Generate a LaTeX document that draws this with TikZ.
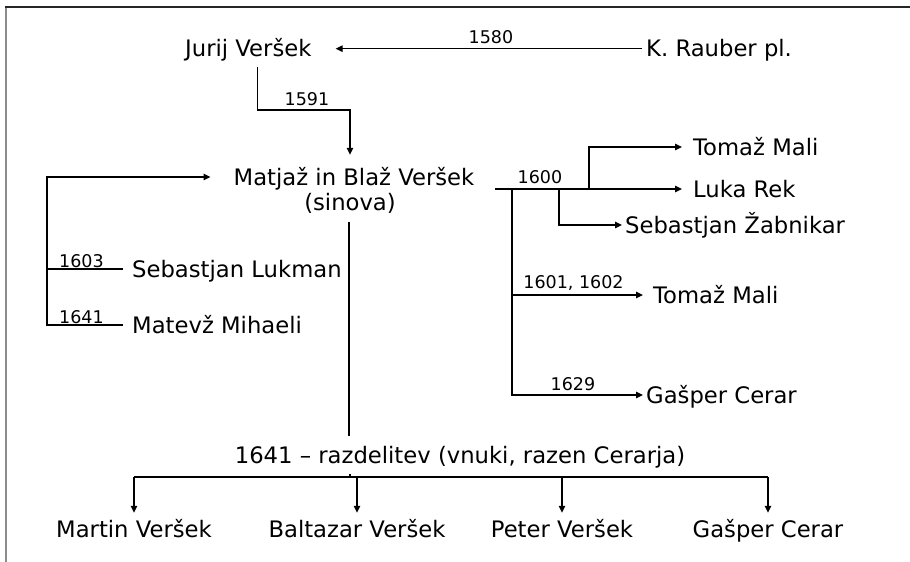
\documentclass[tikz,border=0pt]{standalone}
\usepackage{fontspec}
\setmainfont{DejaVu Sans}
\usetikzlibrary{arrows.meta}
\begin{document}
\begin{tikzpicture}[x=1pt,y=-1pt,
  lbl/.style={font=\fontsize{22.7}{26}\selectfont, inner sep=0pt, text height=16pt, text depth=0pt},
  yr/.style={font=\fontsize{17.5}{20}\selectfont, inner sep=0pt},
  ln/.style={line width=1.3pt},
  arr/.style={ln, -{Triangle[length=7pt,width=6.5pt]}},
]
\useasboundingbox (0,0) rectangle (910,562);
\draw[black!45, line width=2pt] (6,6) -- (6,562);
\draw[black!85, line width=1.5pt] (5,7) -- (910,7);

% names
\node[lbl, anchor=base west] (jurij) at (185,56.7) {Jurij Veršek};
\node[lbl, anchor=base west] (rauber) at (646,56.7) {K. Rauber pl.};
\node[lbl, anchor=base] (matjaz) at (354,185) {Matjaž in Blaž Veršek};
\node[lbl, anchor=base] (sinova) at (350,210) {(sinova)};
\node[lbl, anchor=base west] (lukman) at (132,277) {Sebastjan Lukman};
\node[lbl, anchor=base west] (mihaeli) at (132,333) {Matevž Mihaeli};
\node[lbl, anchor=base west] (tomaz1) at (693,155) {Tomaž Mali};
\node[lbl, anchor=base west] (luka) at (693,197) {Luka Rek};
\node[lbl, anchor=base west] (zabnikar) at (625,233) {Sebastjan Žabnikar};
\node[lbl, anchor=base west] (tomaz2) at (653,303) {Tomaž Mali};
\node[lbl, anchor=base west] (cerar1) at (646,403) {Gašper Cerar};
\node[lbl, anchor=base] (razdel) at (460,463) {1641 – razdelitev (vnuki, razen Cerarja)};
\node[lbl, anchor=base] (martin) at (134,537) {Martin Veršek};
\node[lbl, anchor=base] (baltazar) at (357,537) {Baltazar Veršek};
\node[lbl, anchor=base] (peter) at (562,537) {Peter Veršek};
\node[lbl, anchor=base] (cerar2) at (768,537) {Gašper Cerar};

% years
\node[yr, anchor=base] (y1580) at (491,43.5) {1580};
\node[yr, anchor=base] (y1591) at (307,105) {1591};
\node[yr, anchor=base west] (y1603) at (59,267) {1603};
\node[yr, anchor=base west] (y1641) at (59,323) {1641};
\node[yr, anchor=base] (y1600) at (540,183) {1600};
\node[yr, anchor=base] (y1601) at (573.5,288) {1601, 1602};
\node[yr, anchor=base] (y1629) at (573,390) {1629};

% top
\draw[arr] ([xshift=-4]rauber.west) -- ([xshift=24]jurij.east);
\draw[arr] ([xshift=9,yshift=-10]jurij.south) -- ++(0,43) -| ([xshift=-4,yshift=14]matjaz.north);

% left bracket
\draw[ln] ([xshift=-9]lukman.west) -- ++(-76,0);
\draw[arr] ([xshift=-9]mihaeli.west) -- ++(-76,0) |- ([xshift=-23]matjaz.west);

% centre line
\draw[line width=2pt] ([xshift=-1,yshift=-12]sinova.south) -- ++(0,214);

% bottom bus
\coordinate (bus) at ([yshift=-14]razdel.base);
\draw[ln] (bus -| martin.north) -- (bus -| cerar2.north);
\draw[ln] (bus -| sinova.south) -- ++(0,-3);
\foreach \n in {martin,baltazar,peter,cerar2}
  \draw[arr] (bus -| \n.north) -- ([yshift=8]\n.north);

% right side
\coordinate (r0) at ([xshift=-198]luka.west);
\coordinate (r1) at ([xshift=-104]luka.west);
\coordinate (r2) at ([xshift=-134]luka.west);
\coordinate (sp) at ([xshift=-181]luka.west);
\draw[line width=1.9pt] (r0) -- ([xshift=1]r1);
\draw[arr] (r1) -- ([xshift=-11]luka.west);
\draw[arr] (r1) |- ([xshift=-11]tomaz1.west);
\draw[arr] (r2) |- ([xshift=-3]zabnikar.west);
\draw[arr] (sp) |- ([xshift=-3]cerar1.west);
\draw[arr] (sp |- tomaz2.west) -- ([xshift=-10]tomaz2.west);
\end{tikzpicture}
\end{document}
